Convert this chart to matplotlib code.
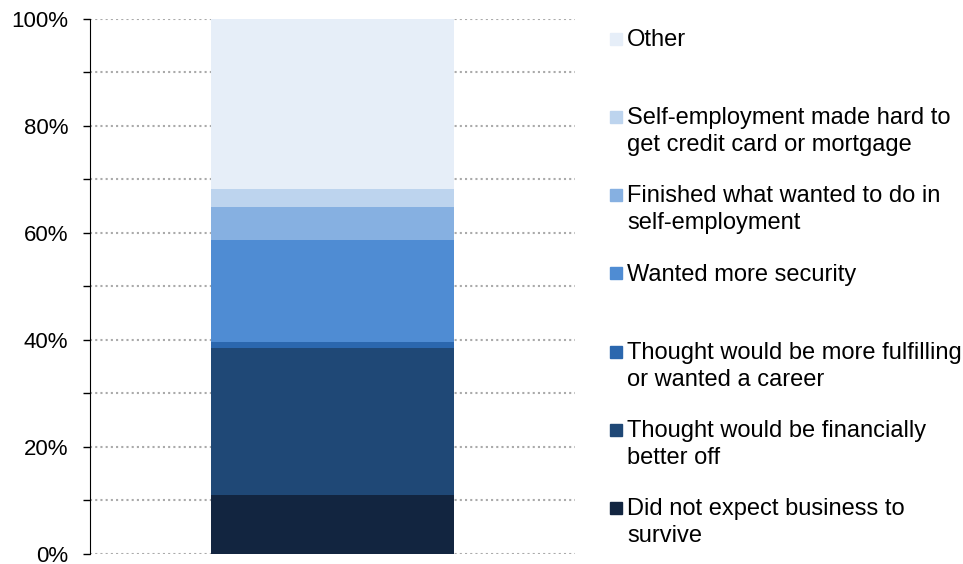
import matplotlib
matplotlib.use("Agg")
import matplotlib.pyplot as plt
from matplotlib.patches import Rectangle

plt.rcParams['font.family'] = ['Liberation Sans', 'DejaVu Sans']

categories = [
    "Did not expect business to\nsurvive",
    "Thought would be financially\nbetter off",
    "Thought would be more fulfilling\nor wanted a career",
    "Wanted more security",
    "Finished what wanted to do in\nself-employment",
    "Self-employment made hard to\nget credit card or mortgage",
    "Other",
]
values = [11.0, 27.4, 1.2, 19.0, 6.3, 3.2, 31.9]
colors = ["#122540", "#1F4876", "#2B67AE", "#4F8CD3", "#86B0E1", "#BDD4EE", "#E6EEF8"]
yticks = [0, 20, 40, 60, 80, 100]
ytick_labels = ["0%", "20%", "40%", "60%", "80%", "100%"]

fig = plt.figure(figsize=(9.63, 5.64), dpi=100)
ax = fig.add_axes([90/963, 1-554/564, 485/963, (554-18.7)/564])

bottom = 0
for v, c in zip(values, colors):
    ax.bar(0, v, width=1.0, bottom=bottom, color=c, zorder=3, linewidth=0)
    bottom += v

ax.set_xlim(-1, 1)
ax.set_ylim(0, 100)
for g in range(0, 101, 10):
    ax.axhline(g, color="#AAAAAA", linestyle=(0, (1, 1.5)), linewidth=1.5, zorder=1)

ax.set_yticks(yticks)
ax.set_yticklabels(ytick_labels, fontsize=16)
ax.set_yticks(range(10, 100, 20), minor=True)
ax.tick_params(axis='y', which='both', length=5, width=1, color="#000000", pad=10.5)
ax.set_xticks([])
for s in ["top", "right", "bottom"]:
    ax.spines[s].set_visible(False)
ax.spines["left"].set_color("#000000")

# Legend (manual, top entry = last category)
W, H = 963, 564
first_y = 38.7
step = 78.2
line_h = 26.7
for i, (lab, c) in enumerate(zip(categories[::-1], colors[::-1])):
    yc = first_y + i * step
    fig.patches.append(Rectangle((610/W, 1-(yc+6)/H), 12/W, 12/H,
                                 transform=fig.transFigure, color=c, figure=fig))
    for k, line in enumerate(lab.split("\n")):
        fig.text(627/W, 1-(yc+7.3+k*line_h)/H, line, fontsize=17, va='baseline',
                 ha='left', color="#000000")

fig.savefig("out.png", dpi=100)
